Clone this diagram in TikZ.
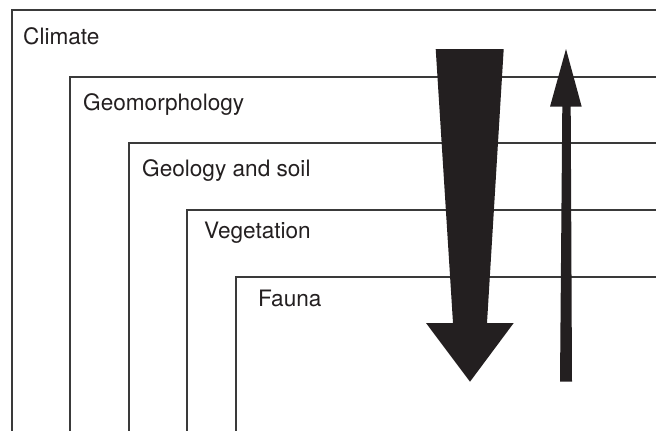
\documentclass[tikz,border=0pt]{standalone}
\usepackage{fontspec}
\setmainfont{TeX Gyre Heros}
\usepackage{tikz}
\usetikzlibrary{positioning, calc}
\definecolor{InkBlack}{HTML}{231F20}
\definecolor{FrameGray}{HTML}{3A3A3A}

\begin{document}
\begin{tikzpicture}[x=1pt, y=-1pt,
    frame/.style={line width=1.3pt, color=FrameGray},
    lbl/.style={anchor=base west, inner sep=0pt, font=\fontsize{22.6}{26}\selectfont, color=InkBlack}]
    \useasboundingbox (0,0) rectangle (656,431);
    \clip (0,0) rectangle (656,431);
    % nested open frames: left x / top y / label x / label baseline / text
    \foreach \fx/\fy/\lx/\ly/\txt [count=\i] in {12/10/23/44.5/Climate, 70/77/83/110/Geomorphology, 129/143/142/176/Geology and soil, 187/210/204/238/Vegetation, 236/277/258/306.5/Fauna}{
        \draw[frame] (\fx,440) -- (\fx,\fy) -- (670,\fy);
        \node[lbl] (layer\i) at (\lx,\ly) {\txt};
    }
    % top-down control (broad arrow)
    \fill[InkBlack] (435.7,49) -- (503.7,49) -- (487,323) -- (513.7,323) -- (470,381.7) -- (426,323) -- (453,323) -- cycle;
    % bottom-up feedback (narrow arrow)
    \fill[InkBlack] (566,49) -- (581.7,106.7) -- (570.7,106.7) -- (572,381.7) -- (560,381.7) -- (562.3,106.7) -- (550,106.7) -- cycle;
\end{tikzpicture}
\end{document}
